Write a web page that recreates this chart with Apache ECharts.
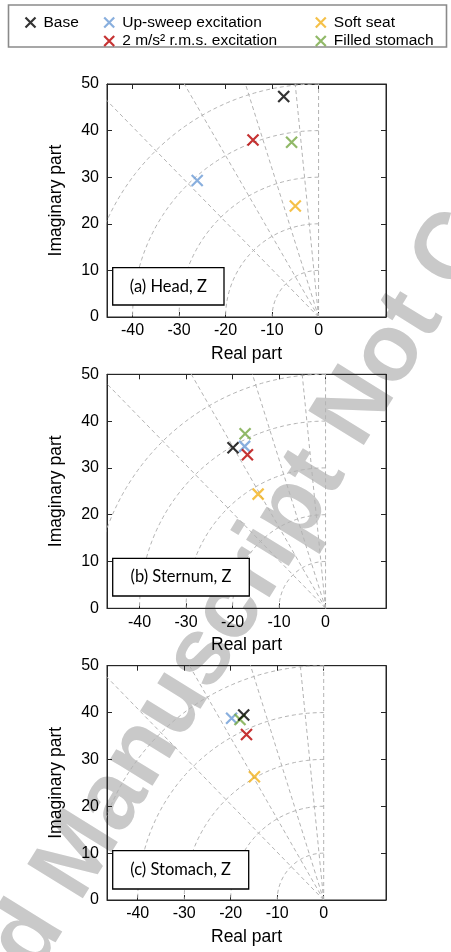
<!DOCTYPE html>
<html>
<head>
<meta charset="utf-8">
<script src="https://cdn.jsdelivr.net/npm/echarts@6/dist/echarts.min.js"></script>
<style>
  html, body { margin: 0; padding: 0; background: #fff; }
  #chart { width: 451px; height: 952px; }
</style>
</head>
<body>
<div id="chart"></div>
<script>
// Pole locations (real part, imaginary part) for each condition
const seriesNames = ['Base', 'Up-sweep excitation', '2 m/s\u00b2 r.m.s. excitation', 'Soft seat', 'Filled stomach'];
const seriesColors = ['#000000', '#6b9bd6', '#b80000', '#f2b21c', '#76a842'];
const panelLabels = ['(a) Head, Z', '(b) Sternum, Z', '(c) Stomach, Z'];
const headPoles    = [[-7.5, 47.3], [-26.1, 29.3], [-14.1, 38.0], [-5.0, 23.8], [-5.8, 37.5]];
const sternumPoles = [[-19.9, 34.3], [-17.4, 34.6], [-16.8, 32.8], [-14.5, 24.4], [-17.3, 37.3]];
const stomachPoles = [[-17.2, 39.5], [-19.8, 38.8], [-16.6, 35.3], [-14.9, 26.3], [-18.0, 38.5]];
const xTickValues = [-40, -30, -20, -10, 0];
const yTickValues = [0, 10, 20, 30, 40, 50];
const xRanges = [[-45.5, 14.5], [-47, 13], [-46.6, 13.4]];
// s-plane guide: natural-frequency circles and constant-damping rays
const wnRadii = [10, 20, 30, 40, 50];
const zetaValues = [0, 0.1, 0.3, 0.5, 0.7];

const panelPoles = [headPoles, sternumPoles, stomachPoles];
const gridTops = [84, 374.3, 665.7];
const gridHeights = [233, 234, 234.3];
const gridLeft = 107, gridWidth = 279;
const FONT = '"Liberation Sans", Arial, Helvetica, sans-serif';
const AXIS_COLOR = '#262626';
const GUIDE_COLOR = '#b3b3b3';
const CROSS = 'path://M0,0L10,10M10,0L0,10';

const grids = [], xAxes = [], yAxes = [], series = [], graphics = [];

function arcPoints(r) {
  const pts = [];
  for (let deg = 90; deg <= 180; deg += 1) {
    const t = deg * Math.PI / 180;
    pts.push([r * Math.cos(t), r * Math.sin(t)]);
  }
  return pts;
}
function rayPoints(zeta) {
  const R = 120;
  return [[0, 0], [-zeta * R, Math.sqrt(1 - zeta * zeta) * R]];
}

panelPoles.forEach((poles, p) => {
  grids.push({
    left: gridLeft, top: gridTops[p], width: gridWidth, height: gridHeights[p],
    show: true, borderColor: AXIS_COLOR, borderWidth: 1, backgroundColor: 'transparent'
  });
  const [xmin, xmax] = xRanges[p];
  const tickStyle = { show: true, inside: true, length: 5, lineStyle: { color: AXIS_COLOR, width: 1 }, customValues: xTickValues };
  xAxes.push({
    type: 'value', gridIndex: p, position: 'bottom', min: xmin, max: xmax,
    axisLine: { show: true, onZero: false, lineStyle: { color: AXIS_COLOR } },
    axisTick: tickStyle,
    axisLabel: { show: true, customValues: xTickValues, margin: 6, color: '#000', fontSize: 16, fontFamily: FONT },
    splitLine: { show: false },
    name: 'Real part', nameLocation: 'middle', nameGap: 28,
    nameTextStyle: { color: '#000', fontSize: 17.5, fontFamily: FONT }
  });
  xAxes.push({
    type: 'value', gridIndex: p, position: 'top', min: xmin, max: xmax,
    axisLine: { show: true, onZero: false, lineStyle: { color: AXIS_COLOR } },
    axisTick: tickStyle, axisLabel: { show: false }, splitLine: { show: false }
  });
  const yTick = { show: true, inside: true, length: 5, lineStyle: { color: AXIS_COLOR, width: 1 }, customValues: yTickValues };
  yAxes.push({
    type: 'value', gridIndex: p, position: 'left', min: 0, max: 50,
    axisLine: { show: true, onZero: false, lineStyle: { color: AXIS_COLOR } },
    axisTick: yTick,
    axisLabel: { show: true, customValues: yTickValues, margin: 8, color: '#000', fontSize: 16, fontFamily: FONT },
    splitLine: { show: false },
    name: 'Imaginary part', nameLocation: 'middle', nameGap: 42,
    nameTextStyle: { color: '#000', fontSize: 17.5, fontFamily: FONT }
  });
  yAxes.push({
    type: 'value', gridIndex: p, position: 'right', min: 0, max: 50,
    axisLine: { show: true, onZero: false, lineStyle: { color: AXIS_COLOR } },
    axisTick: yTick, axisLabel: { show: false }, splitLine: { show: false }
  });

  const xi = 2 * p, yi = 2 * p;
  const guide = { color: GUIDE_COLOR, width: 1, type: [4, 3] };
  wnRadii.forEach(r => series.push({
    type: 'line', xAxisIndex: xi, yAxisIndex: yi, data: arcPoints(r),
    showSymbol: false, symbol: 'none', silent: true, clip: true, z: 1,
    lineStyle: guide, animation: false
  }));
  zetaValues.forEach(z => series.push({
    type: 'line', xAxisIndex: xi, yAxisIndex: yi, data: rayPoints(z),
    showSymbol: false, symbol: 'none', silent: true, clip: true, z: 1,
    lineStyle: guide, animation: false
  }));

  // draw Base last so it sits on top
  [1, 2, 3, 4, 0].forEach(k => series.push({
    type: 'scatter', name: seriesNames[k], xAxisIndex: xi, yAxisIndex: yi,
    data: [poles[k]], symbol: CROSS, symbolSize: 11, z: 5, animation: false,
    itemStyle: { color: 'none', borderColor: seriesColors[k], borderWidth: 2.2 }
  }));
});

// panel label boxes
const boxRects = [
  [112.7, 267.7, 111.3, 37.3],
  [112.7, 558.3, 136.6, 37.7],
  [112.7, 850.7, 136.0, 38.3]
];
boxRects.forEach((b, p) => {
  graphics.push({
    type: 'rect', z: 50, shape: { x: b[0], y: b[1], width: b[2], height: b[3] },
    style: { fill: '#fff', stroke: '#000', lineWidth: 1.3 }
  });
  graphics.push({
    type: 'text', z: 51, x: b[0] + b[2] / 2, y: b[1] + b[3] / 2,
    style: { text: panelLabels[p], fill: '#000', font: '16.5px Lato, "Open Sans", sans-serif', align: 'center', verticalAlign: 'middle' }
  });
});

// legend frame
graphics.push({
  type: 'rect', z: 0, shape: { x: 8.5, y: 5, width: 438, height: 42 },
  style: { fill: '#fff', stroke: '#8a8a8a', lineWidth: 1.6 }
});

// diagonal watermark behind the plots
graphics.push({
  type: 'text', z: -10, x: 263, y: 558, rotation: 1.016,
  style: { text: 'Accepted Manuscript Not Copyedited', fill: '#c9c9c9', font: 'bold 95px "Liberation Sans", Arial, sans-serif', align: 'center', verticalAlign: 'middle' }
});

const legendSpots = [[23, 14.5], [101.7, 14.5], [101.7, 33], [313.3, 14.5], [313.3, 33]];
const legends = seriesNames.map((name, k) => ({
  left: legendSpots[k][0], top: legendSpots[k][1], padding: 0, z: 10,
  itemWidth: 10, itemHeight: 10, selectedMode: false,
  data: [{ name, icon: CROSS, itemStyle: { color: 'none', borderColor: seriesColors[k], borderWidth: 2.2 } }],
  textStyle: { color: '#000', fontSize: 15.5, fontFamily: FONT, lineHeight: 16, padding: [0, 0, 0, 3] }
}));

const chart = echarts.init(document.getElementById('chart'), null, { renderer: 'canvas' });
chart.setOption({
  backgroundColor: '#fff',
  animation: false,
  grid: grids, xAxis: xAxes, yAxis: yAxes, series,
  legend: legends,
  graphic: { elements: graphics }
});
</script>
</body>
</html>
